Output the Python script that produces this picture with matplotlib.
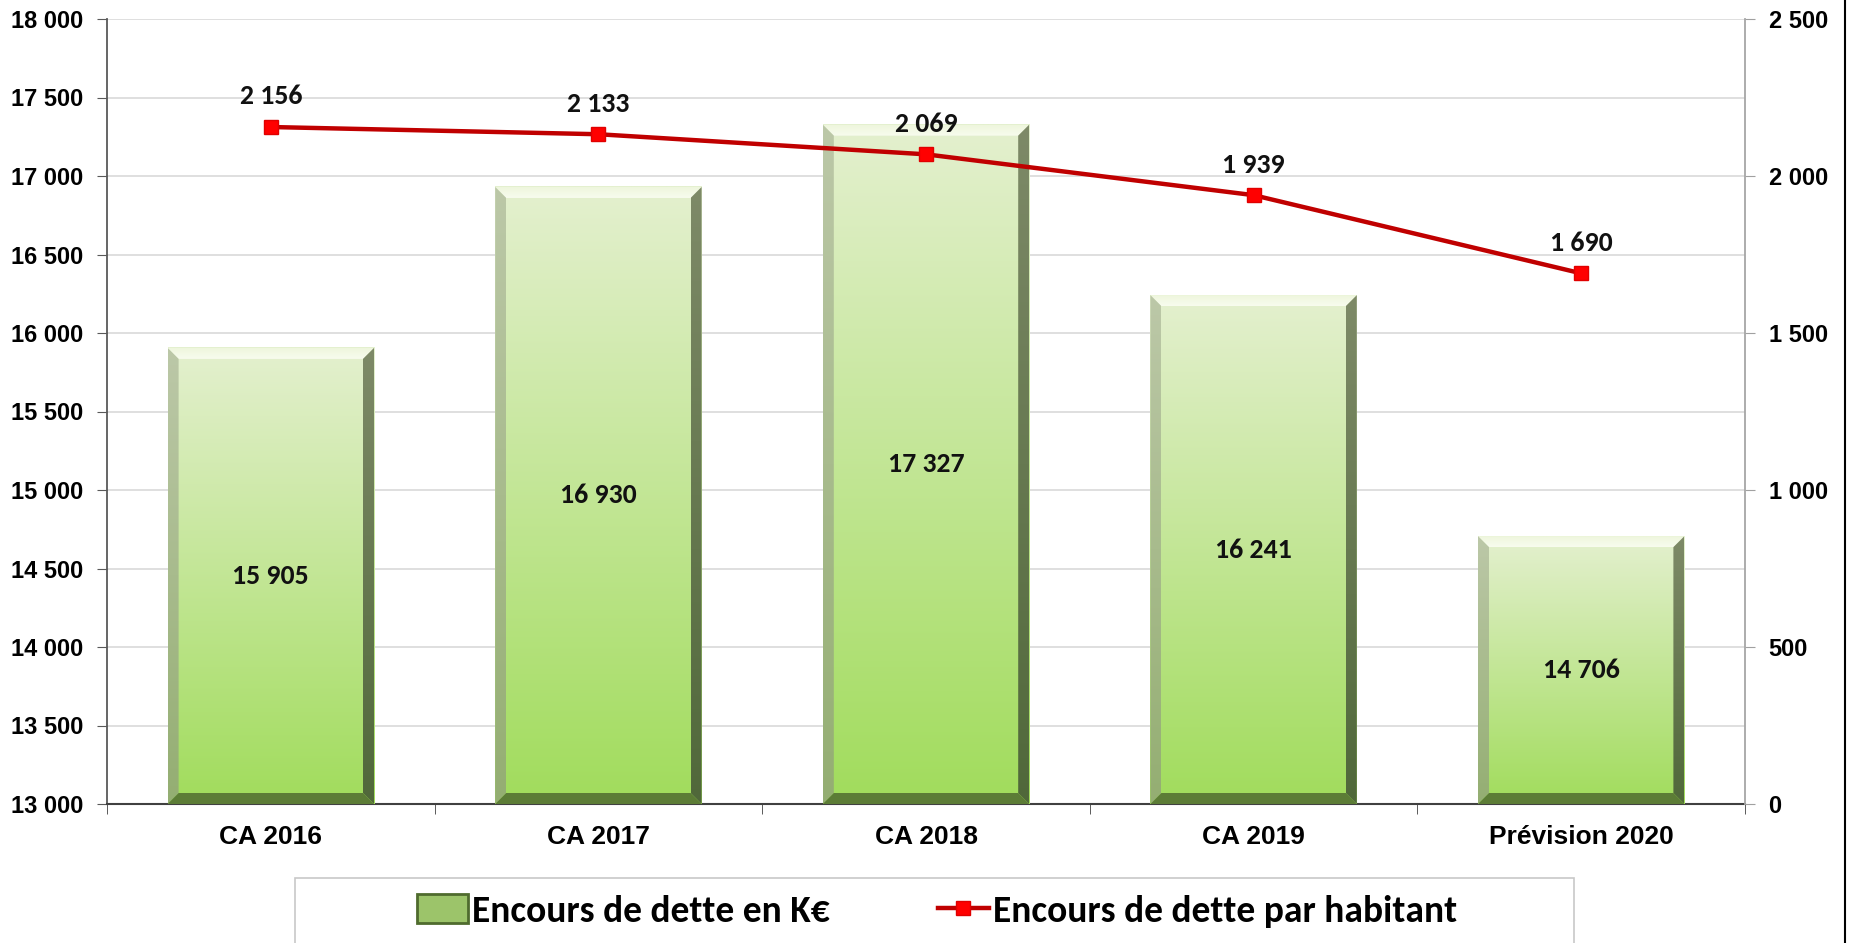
import numpy as np
import matplotlib
matplotlib.use("Agg")
import matplotlib.pyplot as plt
from matplotlib.patches import Polygon, Rectangle
from matplotlib.lines import Line2D
from matplotlib.colors import LinearSegmentedColormap
from matplotlib import font_manager

categories = ["CA 2016", "CA 2017", "CA 2018", "CA 2019", "Prévision 2020"]
encours_keur = [15905, 16930, 17327, 16241, 14706]
encours_hab = [2156, 2133, 2069, 1939, 1690]
left_ticks = [13000, 13500, 14000, 14500, 15000, 15500, 16000, 16500, 17000, 17500, 18000]
right_ticks = [0, 500, 1000, 1500, 2000, 2500]
legend_labels = ["Encours de dette en K€", "Encours de dette par habitant"]

avail = {f.name for f in font_manager.fontManager.ttflist}
narrow = [f for f in ["Carlito", "Liberation Sans Narrow", "Open Sans", "DejaVu Sans"] if f in avail]
arial = [f for f in ["Liberation Sans", "Arial", "DejaVu Sans"] if f in avail]

def fmt(v):
    return f"{v:,}".replace(",", " ")

W, H, DPI = 1851, 943, 100
fig = plt.figure(figsize=(W / DPI, H / DPI), dpi=DPI)
fig.patch.set_facecolor("white")

axl, axr, axb, axt = 107 / W, 1745 / W, 1 - 804 / H, 1 - 19 / H
ax = fig.add_axes([axl, axb, axr - axl, axt - axb])
ax2 = ax.twinx()

ax.set_xlim(-0.5, len(categories) - 0.5)
ax.set_ylim(left_ticks[0], left_ticks[-1])
ax2.set_ylim(right_ticks[0], right_ticks[-1])

ax_w_px = (axr - axl) * W
ax_h_px = (axt - axb) * H
px_x = ax_w_px / (len(categories))
px_y = ax_h_px / (left_ticks[-1] - left_ticks[0])

ax.set_yticks(left_ticks)
ax.yaxis.grid(True, color="#d9d9d9", linewidth=1.2)
ax.set_axisbelow(True)

x = np.arange(len(categories))
bars = ax.bar(x, [v - left_ticks[0] for v in encours_keur], bottom=left_ticks[0],
              width=0.63, facecolor="none", edgecolor="none", zorder=2)

def vgrad(ax, extent, top, bottom, clip=None, z=3):
    cmap = LinearSegmentedColormap.from_list("g", [bottom, top])
    grad = np.linspace(1, 0, 256).reshape(-1, 1)
    im = ax.imshow(grad, extent=extent, aspect="auto", cmap=cmap, vmin=0, vmax=1,
                   zorder=z, interpolation="bilinear")
    if clip is not None:
        im.set_clip_path(clip)
    return im

bx = 11 / px_x
by = 11 / px_y
for b, v in zip(bars, encours_keur):
    x0 = b.get_x(); x1 = x0 + b.get_width()
    y0 = b.get_y(); y1 = y0 + b.get_height()
    vgrad(ax, [x0, x1, y0, y1], "#e4f0cf", "#a1dc5c", z=3)
    top = Polygon([[x0, y1], [x1, y1], [x1 - bx, y1 - by], [x0 + bx, y1 - by]], closed=True,
                  facecolor="none", edgecolor="none", transform=ax.transData)
    ax.add_patch(top)
    vgrad(ax, [x0, x1, y1 - by, y1], "#eef6dd", "#f8fcee", clip=top, z=4)
    left = Polygon([[x0, y0], [x0, y1], [x0 + bx, y1 - by], [x0 + bx, y0 + by]], closed=True,
                   facecolor="none", edgecolor="none", transform=ax.transData)
    ax.add_patch(left)
    vgrad(ax, [x0, x0 + bx, y0, y1], "#bcc8a8", "#94ae72", clip=left, z=4)
    right = Polygon([[x1, y0], [x1, y1], [x1 - bx, y1 - by], [x1 - bx, y0 + by]], closed=True,
                    facecolor="none", edgecolor="none", transform=ax.transData)
    ax.add_patch(right)
    vgrad(ax, [x1 - bx, x1, y0, y1], "#7e8a68", "#50683a", clip=right, z=4)
    bot = Polygon([[x0, y0], [x1, y0], [x1 - bx, y0 + by], [x0 + bx, y0 + by]], closed=True,
                  facecolor="#5c7c36", edgecolor="none", transform=ax.transData, zorder=4)
    ax.add_patch(bot)
    ax.text(b.get_x() + b.get_width() / 2, (y0 + y1) / 2, fmt(v), ha="center", va="center",
            fontsize=20, fontweight="bold", family=narrow, color="#111111", zorder=6)

ax2.plot(x, encours_hab, color="#c00000", linewidth=3.2, marker="s", markersize=10,
         markerfacecolor="#ff0000", markeredgecolor="#e00000", zorder=5)
for xi, v in zip(x, encours_hab):
    ax2.annotate(fmt(v), (xi, v), xytext=(0, 22), textcoords="offset points",
                 ha="center", va="center", fontsize=20, fontweight="bold", family=narrow,
                 color="#111111")

ax.set_ylim(left_ticks[0], left_ticks[-1])
ax.set_xlim(-0.5, len(categories) - 0.5)
ax.set_yticklabels([fmt(t) for t in left_ticks], fontsize=17, fontweight="bold", family=arial)
ax2.set_yticks(right_ticks)
ax2.set_yticklabels([fmt(t) for t in right_ticks], fontsize=17, fontweight="bold", family=arial)
ax.set_xticks(x)
ax.set_xticklabels(categories, fontsize=19, fontweight="bold", family=arial)
ax.set_xticks(np.arange(-0.5, len(categories), 1.0), minor=True)
ax.tick_params(axis="x", which="major", length=0, pad=15)
ax.tick_params(axis="x", which="minor", length=7, color="#404040", direction="out")
ax.tick_params(axis="y", length=7, color="#595959", pad=10)
ax2.tick_params(axis="y", length=7, color="#a0a0a0", pad=10)

for a in (ax, ax2):
    a.spines["top"].set_visible(False)
ax.spines["left"].set_color("#595959")
ax.spines["left"].set_linewidth(1.3)
ax.spines["bottom"].set_color("#404040")
ax.spines["bottom"].set_linewidth(1.5)
ax.spines["right"].set_visible(False)
ax2.spines["left"].set_visible(False)
ax2.spines["bottom"].set_visible(False)
ax2.spines["right"].set_color("#a6a6a6")
ax2.spines["right"].set_linewidth(1.3)

fig.patches.append(Rectangle((295 / W, -0.01), (1574 - 295) / W, (943 - 878) / H + 0.01,
                             transform=fig.transFigure, facecolor="white",
                             edgecolor="#c8c8c8", linewidth=1.2))

handles = [Rectangle((0, 0), 1, 1, facecolor="#9cc46a", edgecolor="#4f6b2e", linewidth=2),
           Line2D([0], [0], color="#c00000", linewidth=3.2, marker="s", markersize=10,
                  markerfacecolor="#ff0000", markeredgecolor="#e00000")]
leg = fig.legend(handles, legend_labels, loc="center", bbox_to_anchor=(937 / W, 1 - 911 / H),
                 ncol=2, frameon=False, prop={"family": narrow, "weight": "bold", "size": 27},
                 handlelength=1.35, handletextpad=0.1, columnspacing=2.9, handleheight=0.8)

fig.add_artist(Line2D([1845 / W, 1845 / W], [0, 1], transform=fig.transFigure,
                      color="black", linewidth=1.5))

fig.savefig("out.png", dpi=DPI, facecolor="white")
